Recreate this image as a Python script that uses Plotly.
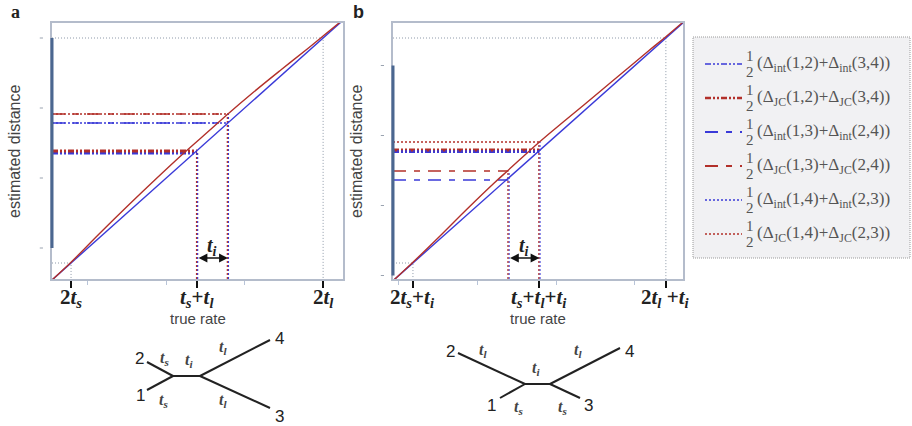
import plotly.graph_objects as go

W, H = 912, 426

# ---- model branch lengths (true-rate units) ----
ts, tl, ti = 0.10, 0.55, 0.11

# ---- panel a: estimated distance vs true rate ----
xa = [0.13, 0.20, 0.30, 0.40, 0.50, 0.60, 0.70, 0.76, 0.85, 0.95, 1.05, 1.10, 1.17]
blue_a = [0.13, 0.20, 0.30, 0.40, 0.50, 0.60, 0.70, 0.76, 0.85, 0.95, 1.05, 1.10, 1.17]
red_a = [0.13, 0.203, 0.316, 0.426, 0.533, 0.637, 0.736, 0.796, 0.882, 0.973, 1.062, 1.108, 1.172]

# panel a averages: (1,2)+(3,4), (1,3)+(2,4), (1,4)+(2,3)
a_int = [0.640, 0.760, 0.760]
a_jc = [0.648, 0.796, 0.796]

# ---- panel b ----
xb = [0.24, 0.31, 0.40, 0.50, 0.60, 0.65, 0.76, 0.85, 0.95, 1.05, 1.15, 1.21, 1.28]
blue_b = [0.24, 0.31, 0.40, 0.50, 0.60, 0.65, 0.76, 0.85, 0.95, 1.05, 1.15, 1.21, 1.28]
red_b = [0.24, 0.313, 0.411, 0.523, 0.631, 0.682, 0.794, 0.879, 0.972, 1.066, 1.160, 1.215, 1.282]

b_int = [0.756, 0.642, 0.758]
b_jc = [0.762, 0.678, 0.794]

# axis tick values shared by both panels
ytick_vals = [0.26, 0.54, 0.82, 1.10]
xminor_vals = [0.26, 0.54, 0.82, 1.10]

tick_a = [2 * ts, ts + tl, 2 * tl]
tick_b = [2 * ts + ti, ts + tl + ti, 2 * tl + ti]
ticktext_a = ["<b>2<i>t</i><sub><i>s</i></sub></b>",
              "<b><i>t</i><sub><i>s</i></sub>+<i>t</i><sub><i>l</i></sub></b>",
              "<b>2<i>t</i><sub><i>l</i></sub></b>"]
ticktext_b = ["<b>2<i>t</i><sub><i>s</i></sub>+<i>t</i><sub><i>i</i></sub></b>",
              "<b><i>t</i><sub><i>s</i></sub>+<i>t</i><sub><i>l</i></sub>+<i>t</i><sub><i>i</i></sub></b>",
              "<b>2<i>t</i><sub><i>l</i></sub> +<i>t</i><sub><i>i</i></sub></b>"]

legend_labels = [
    "(Δ<sub>int</sub>(1,2)+Δ<sub>int</sub>(3,4))",
    "(Δ<sub>JC</sub>(1,2)+Δ<sub>JC</sub>(3,4))",
    "(Δ<sub>int</sub>(1,3)+Δ<sub>int</sub>(2,4))",
    "(Δ<sub>JC</sub>(1,3)+Δ<sub>JC</sub>(2,4))",
    "(Δ<sub>int</sub>(1,4)+Δ<sub>int</sub>(2,3))",
    "(Δ<sub>JC</sub>(1,4)+Δ<sub>JC</sub>(2,3))",
]

# ---- styles ----
BLUE = "#3a3ad8"
RED = "#b2302a"
DASHDOTDOT = "6px,2px,2px,2px,2px,2px"
LONGDASH = "13px,8px,6px,8px"
DOT = "2px,2px"
pair_dash = [DASHDOTDOT, LONGDASH, DOT]
pair_width = [2.8, 1.6, 1.5]
REF = "#8f9aaa"
FRAME = "#b4bccb"
SERIF = "Liberation Serif"
SANS = "Liberation Sans"

# domains in pixels
A_X = (52, 343)
B_X = (393, 683)
P_Y = (23, 279)

xr_a = [0.132, 1.171]
yr_a = [0.136, 1.160]
xr_b = [0.239, 1.271]
yr_b = [0.246, 1.270]


def dom_x(p):
    return [p[0] / W, p[1] / W]


def dom_y(p):
    return [1 - p[1] / H, 1 - p[0] / H]


def px(x, y):
    return x / W, 1 - y / H


fig = go.Figure()
shapes = []
annotations = []


def note(**kw):
    kw.setdefault("showarrow", False)
    kw.setdefault("xanchor", "center")
    kw.setdefault("yanchor", "middle")
    annotations.append(kw)


def add_panel(xs, blue, red, ints, jcs, ends, xr, yr, ticks, axx, axy):
    # grey reference lines at the two outer tick positions
    for t in (ticks[0], ticks[2]):
        fig.add_trace(go.Scatter(x=[xr[0], t, t], y=[t, t, yr[0]], mode="lines",
                                 line=dict(color=REF, width=1, dash="1px,2px"),
                                 xaxis=axx, yaxis=axy, showlegend=False, hoverinfo="skip"))
    # vertical dotted drop lines
    for xe in sorted(set(ends)):
        top = max([v for v, e in zip(ints + jcs, ends + ends) if e == xe])
        fig.add_trace(go.Scatter(x=[xe + 0.002, xe + 0.002], y=[yr[0], top], mode="lines",
                                 line=dict(color=BLUE, width=1.2, dash=DOT),
                                 xaxis=axx, yaxis=axy, showlegend=False, hoverinfo="skip"))
        fig.add_trace(go.Scatter(x=[xe - 0.002, xe - 0.002], y=[yr[0], top], mode="lines",
                                 line=dict(color=RED, width=1.2, dash=DOT),
                                 xaxis=axx, yaxis=axy, showlegend=False, hoverinfo="skip"))
    # horizontal average lines
    for k in range(3):
        fig.add_trace(go.Scatter(x=[xr[0], ends[k]], y=[ints[k], ints[k]], mode="lines",
                                 line=dict(color=BLUE, width=pair_width[k], dash=pair_dash[k]),
                                 xaxis=axx, yaxis=axy, showlegend=False, hoverinfo="skip"))
        fig.add_trace(go.Scatter(x=[xr[0], ends[k]], y=[jcs[k], jcs[k]], mode="lines",
                                 line=dict(color=RED, width=pair_width[k], dash=pair_dash[k]),
                                 xaxis=axx, yaxis=axy, showlegend=False, hoverinfo="skip"))
    # curves
    fig.add_trace(go.Scatter(x=xs, y=blue, mode="lines", line=dict(color=BLUE, width=1.4),
                             xaxis=axx, yaxis=axy, showlegend=False, hoverinfo="skip"))
    fig.add_trace(go.Scatter(x=xs, y=red, mode="lines", line=dict(color=RED, width=1.4, shape="spline"),
                             xaxis=axx, yaxis=axy, showlegend=False, hoverinfo="skip"))


ends_a = [ts + tl, ts + tl + ti, ts + tl + ti]
ends_b = [ts + tl + ti, ts + tl, ts + tl + ti]
add_panel(xa, blue_a, red_a, a_int, a_jc, ends_a, xr_a, yr_a, tick_a, "x", "y")
add_panel(xb, blue_b, red_b, b_int, b_jc, ends_b, xr_b, yr_b, tick_b, "x2", "y2")


def xaxis_cfg(dom, rng, tv):
    return dict(domain=dom_x(dom), range=rng, showgrid=False, zeroline=False,
                showline=True, mirror=True, linecolor=FRAME, linewidth=1.5,
                tickmode="array", tickvals=tv, ticks="outside", showticklabels=False,
                ticklen=7, tickwidth=2.2, tickcolor="#111",
                minor=dict(tickmode="array", tickvals=xminor_vals, ticks="outside",
                           ticklen=4, tickwidth=1, tickcolor="#b8c4d8"),
                fixedrange=True)


def yaxis_cfg(rng):
    return dict(domain=dom_y(P_Y), range=rng, showgrid=False, zeroline=False,
                showline=True, mirror=True, linecolor=FRAME, linewidth=1.5,
                showticklabels=False, ticks="", fixedrange=True)


# tick labels under the bold ticks
_, lab_y = px(0, 298)
for xref, tv, tt in (("x", tick_a, ticktext_a), ("x2", tick_b, ticktext_b)):
    for v, t in zip(tv, tt):
        note(x=v, y=lab_y, xref=xref, yref="paper", text=t,
             font=dict(family=SERIF, size=21, color="#222"))

# thick left axis segment and small y ticks
for xd, yref in (("x domain", "y"), ("x2 domain", "y2")):
    shapes.append(dict(type="line", xref=xd, yref=yref, x0=0, x1=0,
                       y0=ytick_vals[0], y1=ytick_vals[-1],
                       line=dict(color="#4b6790", width=3)))
    for v in ytick_vals:
        shapes.append(dict(type="line", xref=xd, yref=yref, x0=-0.042, x1=-0.031,
                           y0=v, y1=v, line=dict(color="#9aa3b0", width=1)))

# t_i arrows
for xref, yref, yr, xs_ in (("x", "y", yr_a, ts + tl), ("x2", "y2", yr_b, ts + tl)):
    ya = yr[0] + 21 / 250
    annotations.append(dict(x=xs_ + ti, y=ya, ax=xs_, ay=ya, xref=xref, yref=yref,
                            axref=xref, ayref=yref, text="", showarrow=True,
                            arrowhead=2, startarrowhead=2, arrowside="end+start",
                            arrowsize=1.1, arrowwidth=1.6, arrowcolor="#111"))
    note(x=xs_ + ti / 2, y=ya, xref=xref, yref=yref, yshift=12,
         text="<b><i>t</i><sub><i>i</i></sub></b>",
         font=dict(family=SERIF, size=20, color="#222"))

# axis titles and panel letters
for cx in (14, 356):
    x, y = px(cx, 151)
    note(x=x, y=y, xref="paper", yref="paper", text="estimated distance", textangle=-90,
         font=dict(family=SANS, size=16, color="#444"))
for cx in ((A_X[0] + A_X[1]) / 2, (B_X[0] + B_X[1]) / 2):
    x, y = px(cx, 318)
    note(x=x, y=y, xref="paper", yref="paper", text="true rate",
         font=dict(family=SANS, size=15, color="#444"))
for lbl, cx, cy, fam in (("a", 15, 12, SERIF), ("b", 358, 12, SANS)):
    x, y = px(cx, cy)
    note(x=x, y=y, xref="paper", yref="paper", text="<b>%s</b>" % lbl,
         font=dict(family=fam, size=18, color="#222"))

# legend box
x0, y1 = px(693, 37)
x1, y0 = px(910, 258)
shapes.append(dict(type="rect", xref="paper", yref="paper", x0=x0, x1=x1, y0=y0, y1=y1,
                   fillcolor="#f1f1f3", line=dict(color="#9a9a9a", width=1, dash="1px,1px"),
                   layer="below"))
leg_colors = [BLUE, RED, BLUE, RED, BLUE, RED]
leg_dash = [DASHDOTDOT, DASHDOTDOT, LONGDASH, LONGDASH, DOT, DOT]
leg_width = [1.5, 2.5, 2, 2, 1.5, 1.5]
for i, lab in enumerate(legend_labels):
    cy = 64 + 34 * i
    lx0, ly = px(705, cy)
    lx1, _ = px(742, cy)
    shapes.append(dict(type="line", xref="paper", yref="paper", x0=lx0, x1=lx1, y0=ly, y1=ly,
                       line=dict(color=leg_colors[i], width=leg_width[i], dash=leg_dash[i])))
    for t, dy in (("1", -8), ("2", 8)):
        fx, fy = px(750, cy + dy)
        note(x=fx, y=fy, xref="paper", yref="paper", text=t,
             font=dict(family=SERIF, size=15, color="#555"))
    tx, ty = px(755, cy)
    note(x=tx, y=ty, xref="paper", yref="paper", text=lab, xanchor="left",
         font=dict(family=SERIF, size=17, color="#555"))

# tree diagrams
tree_edges = [
    ((147, 362), (173, 376)), ((147, 390), (173, 376)), ((173, 376), (200, 376)),
    ((200, 376), (270, 340)), ((200, 376), (270, 408)),
    ((458, 353), (525, 384)), ((500, 398), (525, 384)), ((525, 384), (550, 384)),
    ((550, 384), (620, 348)), ((550, 384), (580, 398)),
]
for (p0, p1) in tree_edges:
    a0 = px(*p0)
    a1 = px(*p1)
    shapes.append(dict(type="line", xref="paper", yref="paper", x0=a0[0], y0=a0[1],
                       x1=a1[0], y1=a1[1], line=dict(color="#222", width=2)))

TS = "<b><i>t</i><sub><i>s</i></sub></b>"
TL = "<b><i>t</i><sub><i>l</i></sub></b>"
TI = "<b><i>t</i><sub><i>i</i></sub></b>"
tree_labels = [
    ("2", 139, 358, "n"), ("1", 140, 395, "n"), ("4", 279, 338, "n"), ("3", 279, 416, "n"),
    (TS, 164, 358, "b"), (TS, 163, 400, "b"), (TI, 189, 360, "b"), (TL, 223, 347, "b"), (TL, 223, 400, "b"),
    ("2", 450, 351, "n"), ("1", 491, 405, "n"), ("4", 629, 351, "n"), ("3", 588, 405, "n"),
    (TL, 483, 350, "b"), (TI, 536, 368, "b"), (TL, 578, 350, "b"), (TS, 518, 407, "b"), (TS, 562, 407, "b"),
]
for txt, cx, cy, kind in tree_labels:
    x, y = px(cx, cy)
    if kind == "n":
        f = dict(family=SANS, size=17, color="#222")
    else:
        f = dict(family=SERIF, size=16, color="#444")
    note(x=x, y=y, xref="paper", yref="paper", text=txt, font=f)

fig.update_layout(
    width=W, height=H, margin=dict(l=0, r=0, t=0, b=0),
    paper_bgcolor="white", plot_bgcolor="white", showlegend=False,
    xaxis=dict(xaxis_cfg(A_X, xr_a, tick_a), anchor="y"),
    yaxis=dict(yaxis_cfg(yr_a), anchor="x"),
    xaxis2=dict(xaxis_cfg(B_X, xr_b, tick_b), anchor="y2"),
    yaxis2=dict(yaxis_cfg(yr_b), anchor="x2"),
    shapes=shapes, annotations=annotations,
)

fig.write_html("out.html", config=dict(displayModeBar=False))
